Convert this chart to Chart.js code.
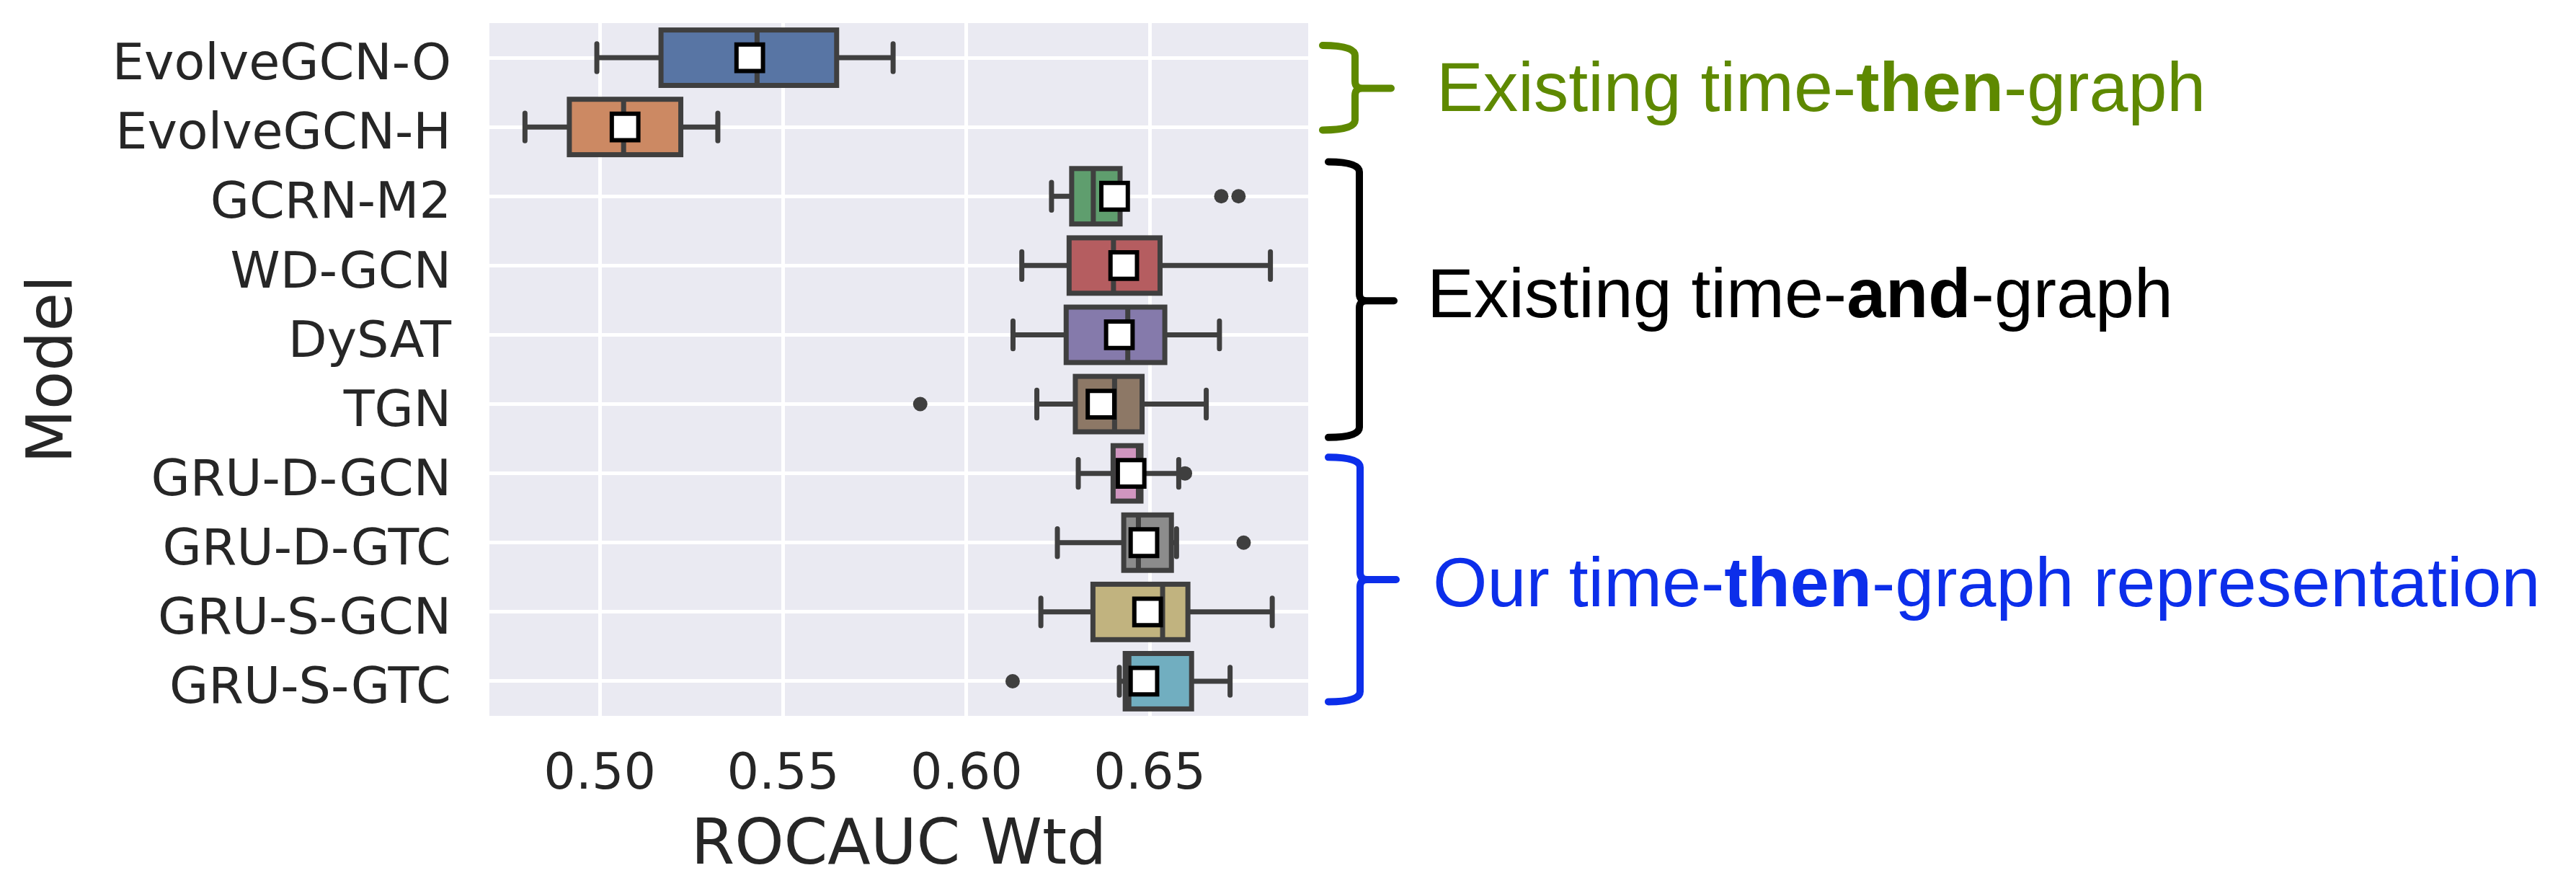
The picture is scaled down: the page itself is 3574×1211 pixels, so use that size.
<!DOCTYPE html>
<html>
<head>
<meta charset="utf-8">
<script src="https://cdn.jsdelivr.net/npm/chart.js@4.4.0/dist/chart.umd.min.js"></script>
<style>
  html, body { margin: 0; padding: 0; background: #ffffff; }
  #c { display: block; }
</style>
</head>
<body>
<canvas id="c" width="3574" height="1211" style="width:3574px;height:1211px"></canvas>
<script>
// ---------------- data ----------------
const categories = ['EvolveGCN-O', 'EvolveGCN-H', 'GCRN-M2', 'WD-GCN', 'DySAT', 'TGN',
                    'GRU-D-GCN', 'GRU-D-GTC', 'GRU-S-GCN', 'GRU-S-GTC'];
const whiskerLow  = [0.4992, 0.4796, 0.6232, 0.6151, 0.6127, 0.6192, 0.6305, 0.6248, 0.6203, 0.6417];
const q1          = [0.5167, 0.4917, 0.6287, 0.6280, 0.6272, 0.6297, 0.6400, 0.6429, 0.6345, 0.6433];
const median      = [0.5429, 0.5065, 0.6346, 0.6401, 0.6440, 0.6404, 0.6469, 0.6469, 0.6535, 0.6443];
const q3          = [0.5646, 0.5221, 0.6419, 0.6528, 0.6541, 0.6479, 0.6476, 0.6559, 0.6604, 0.6614];
const whiskerHigh = [0.5800, 0.5322, 0.6419, 0.6829, 0.6690, 0.6654, 0.6579, 0.6573, 0.6834, 0.6719];
const means       = [0.5409, 0.5069, 0.6404, 0.6429, 0.6417, 0.6367, 0.6449, 0.6484, 0.6494, 0.6484];
const outliers    = [[], [], [0.6695, 0.6742], [], [], [0.5874], [0.6596], [0.6756], [], [0.6126]];
const xTicks      = [0.50, 0.55, 0.60, 0.65];
const xTitle = 'ROCAUC Wtd';
const yTitle = 'Model';
const groupLabels = [
  [['Existing time-', false], ['then', true], ['-graph', false]],
  [['Existing time-', false], ['and', true], ['-graph', false]],
  [['Our time-', false], ['then', true], ['-graph representation', false]]
];

// ---------------- styles ----------------
const boxColors = ['#5875A4', '#CC8963', '#5F9E6E', '#B55D60', '#857AAB',
                   '#8D7866', '#D095BF', '#8C8C8C', '#C1B37F', '#71AEC0'];
const LINE = '#3F3F3F';
const TEXT = '#262626';
const FONT = "'DejaVu Sans', sans-serif";
const ANN_FONT = '"Liberation Sans", Arial, Helvetica, sans-serif';
// brace/annotation layout: x offsets from chart-area right edge, y in category units
const groupStyle = [
  { color: '#5E8900', top: -0.178, bottom: 1.044, tip: 0.441, base: 0.768, xl: 20, xv: 65, xt: 115, tx: 178 },
  { color: '#000000', top: 1.504, bottom: 5.482, tip: 3.508, base: 3.743, xl: 28, xv: 71, xt: 119, tx: 165 },
  { color: '#0C2EEA', top: 5.768, bottom: 9.296, tip: 7.534, base: 7.915, xl: 28, xv: 72, xt: 122, tx: 173 }
];

const outlierPoints = [];
outliers.forEach((arr, i) => arr.forEach(v => outlierPoints.push({ x: v, y: categories[i] })));
const meanPoints = means.map((m, i) => ({ x: m, y: categories[i] }));

const bgPlugin = {
  id: 'plotBg',
  beforeDraw(chart) {
    const { ctx, chartArea: a } = chart;
    ctx.save();
    ctx.fillStyle = '#EAEAF2';
    ctx.fillRect(a.left, a.top, a.right - a.left, a.bottom - a.top);
    ctx.restore();
  }
};

const boxPlugin = {
  id: 'boxDetails',
  afterDatasetDraw(chart, args) {
    if (args.index !== 0) return;
    const { ctx, scales: { x, y } } = chart;
    const step = y.getPixelForValue(1) - y.getPixelForValue(0);
    const half = step * 0.4;
    const capHalf = half / 2;
    ctx.save();
    ctx.strokeStyle = LINE;
    ctx.lineWidth = 7;
    categories.forEach((c, i) => {
      const yc = y.getPixelForValue(i);
      const xwl = x.getPixelForValue(whiskerLow[i]);
      const xwh = x.getPixelForValue(whiskerHigh[i]);
      const xl = x.getPixelForValue(q1[i]);
      const xr = x.getPixelForValue(q3[i]);
      const xm = x.getPixelForValue(median[i]);
      ctx.lineCap = 'butt';
      ctx.beginPath();
      ctx.moveTo(xwl, yc); ctx.lineTo(xl, yc);
      ctx.moveTo(xr, yc); ctx.lineTo(xwh, yc);
      ctx.stroke();
      ctx.lineCap = 'round';
      ctx.beginPath();
      ctx.moveTo(xwl, yc - capHalf); ctx.lineTo(xwl, yc + capHalf);
      ctx.moveTo(xwh, yc - capHalf); ctx.lineTo(xwh, yc + capHalf);
      ctx.stroke();
      ctx.lineCap = 'butt';
      ctx.lineJoin = 'miter';
      ctx.strokeRect(xl, yc - half, xr - xl, 2 * half);
      ctx.beginPath();
      ctx.moveTo(xm, yc - half); ctx.lineTo(xm, yc + half);
      ctx.stroke();
    });
    ctx.restore();
  }
};

const annPlugin = {
  id: 'groups',
  afterDraw(chart) {
    const { ctx, chartArea: a, scales: { y } } = chart;
    ctx.save();
    groupStyle.forEach((g, k) => {
      const yT = y.getPixelForValue(g.top), yB = y.getPixelForValue(g.bottom), yM = y.getPixelForValue(g.tip);
      const xl = a.right + g.xl, xv = a.right + g.xv, xt = a.right + g.xt;
      const r = 14, r2 = 10;
      ctx.strokeStyle = g.color;
      ctx.lineWidth = 10;
      ctx.lineCap = 'round';
      ctx.lineJoin = 'round';
      ctx.beginPath();
      ctx.moveTo(xl, yT);
      ctx.quadraticCurveTo(xv, yT, xv, yT + r);
      ctx.lineTo(xv, yM - r2);
      ctx.quadraticCurveTo(xv, yM, xv + r2, yM);
      ctx.lineTo(xt, yM);
      ctx.moveTo(xl, yB);
      ctx.quadraticCurveTo(xv, yB, xv, yB - r);
      ctx.lineTo(xv, yM + r2);
      ctx.quadraticCurveTo(xv, yM, xv + r2, yM);
      ctx.stroke();
      // label text
      let cx = a.right + g.tx;
      const by = y.getPixelForValue(g.base);
      ctx.fillStyle = g.color;
      ctx.textAlign = 'left';
      ctx.textBaseline = 'alphabetic';
      groupLabels[k].forEach(([txt, bold]) => {
        ctx.font = (bold ? 'bold ' : '') + '97px ' + ANN_FONT;
        ctx.fillText(txt, cx, by);
        cx += ctx.measureText(txt).width;
      });
    });
    ctx.restore();
  }
};

Chart.defaults.font.family = FONT;
Chart.defaults.color = TEXT;

new Chart(document.getElementById('c'), {
  type: 'bar',
  data: {
    labels: categories,
    datasets: [
      {
        type: 'bar',
        data: categories.map((c, i) => [q1[i], q3[i]]),
        backgroundColor: boxColors,
        borderWidth: 0,
        barPercentage: 0.8,
        categoryPercentage: 1.0,
        order: 3
      },
      {
        type: 'scatter',
        data: outlierPoints,
        pointRadius: 10,
        pointStyle: 'circle',
        backgroundColor: LINE,
        borderWidth: 0,
        order: 2
      },
      {
        type: 'scatter',
        data: meanPoints,
        pointStyle: 'rect',
        pointRadius: 26,
        backgroundColor: '#FFFFFF',
        borderColor: '#000000',
        borderWidth: 6,
        order: 1
      }
    ]
  },
  options: {
    indexAxis: 'y',
    responsive: false,
    animation: false,
    layout: { padding: { left: 0, right: 1759, top: 15, bottom: 0 } },
    plugins: { legend: { display: false }, tooltip: { enabled: false } },
    scales: {
      x: {
        type: 'linear',
        position: 'bottom',
        min: 0.4699,
        max: 0.6932,
        afterBuildTicks: (s) => { s.ticks = xTicks.map(v => ({ value: v })); },
        ticks: {
          stepSize: 0.05,
          includeBounds: false,
          callback: (v) => Number(v).toFixed(2),
          font: { size: 70, family: FONT },
          color: TEXT,
          padding: 41,
          maxRotation: 0
        },
        grid: { color: '#FFFFFF', lineWidth: 5, drawTicks: false },
        border: { display: false },
        title: {
          display: true, text: xTitle, color: TEXT,
          font: { size: 87, family: FONT, lineHeight: 0.8 },
          padding: { top: 0, bottom: 1 }
        },
        afterFit: (s) => { s.height = 218; s.paddingLeft = 0; s.paddingRight = 0; }
      },
      y: {
        type: 'category',
        position: 'left',
        offset: true,
        ticks: {
          font: { size: 70, family: FONT },
          color: TEXT,
          padding: 53,
          labelOffset: 12
        },
        grid: { color: '#FFFFFF', lineWidth: 5, offset: false, drawTicks: false },
        border: { display: false },
        title: {
          display: true, text: yTitle, color: TEXT,
          font: { size: 87, family: FONT, lineHeight: 1 },
          padding: { top: 33, bottom: 0 }
        },
        afterFit: (s) => { s.width = 679; s.paddingTop = 0; s.paddingBottom = 0; }
      }
    }
  },
  plugins: [bgPlugin, boxPlugin, annPlugin]
});
</script>
</body>
</html>
